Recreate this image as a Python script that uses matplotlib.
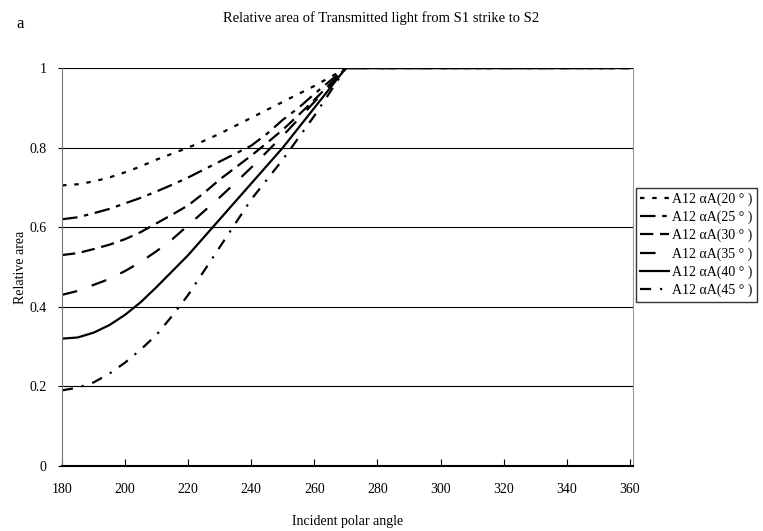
import matplotlib
matplotlib.use("Agg")
import matplotlib.pyplot as plt

plt.rcParams['font.family'] = ['Liberation Serif', 'DejaVu Serif']

angles = [180, 185, 190, 195, 200, 205, 210, 215, 220, 225, 230, 235, 240, 245, 250, 255, 260, 265, 270,
          280, 290, 300, 310, 320, 330, 340, 350, 360]
flat = [1, 1, 1, 1, 1, 1, 1, 1, 1]
a20 = [0.705, 0.708, 0.715, 0.725, 0.738, 0.753, 0.77, 0.785, 0.80, 0.817, 0.835, 0.855, 0.875, 0.895,
       0.915, 0.935, 0.955, 0.977, 1] + flat
a25 = [0.62, 0.625, 0.635, 0.646, 0.66, 0.674, 0.69, 0.707, 0.725, 0.745, 0.765, 0.785, 0.805, 0.835,
       0.87, 0.90, 0.935, 0.968, 1] + flat
a30 = [0.53, 0.535, 0.545, 0.556, 0.57, 0.588, 0.61, 0.632, 0.655, 0.686, 0.72, 0.75, 0.78, 0.812,
       0.845, 0.882, 0.92, 0.96, 1] + flat
a35 = [0.43, 0.44, 0.455, 0.47, 0.49, 0.513, 0.54, 0.57, 0.605, 0.64, 0.675, 0.712, 0.75, 0.79,
       0.83, 0.872, 0.915, 0.957, 1] + flat
a40 = [0.32, 0.323, 0.335, 0.354, 0.38, 0.412, 0.45, 0.49, 0.53, 0.575, 0.62, 0.665, 0.71, 0.755,
       0.80, 0.85, 0.90, 0.95, 1] + flat
a45 = [0.19, 0.197, 0.21, 0.232, 0.26, 0.293, 0.33, 0.378, 0.43, 0.49, 0.55, 0.61, 0.67, 0.72,
       0.77, 0.825, 0.88, 0.94, 1] + flat
labels = ["A12 αA(20 ° )", "A12 αA(25 ° )", "A12 αA(30 ° )",
          "A12 αA(35 ° )", "A12 αA(40 ° )", "A12 αA(45 ° )"]

fig = plt.figure(figsize=(7.63, 5.31), dpi=100)
ax = fig.add_axes([0.0813, 0.1224, 0.7483, 0.7495])

for v in [0.2, 0.4, 0.6, 0.8, 1.0]:
    ax.axhline(v, color='black', lw=0.8, zorder=0)

styles = [(0, (2, 3.5)), (0, (7, 3, 2, 3)), (0, (6, 3)), (0, (7, 7)), '-', (0, (5, 4, 1, 4))]
series = [a20, a25, a30, a35, a40, a45]
for y, ls, lab in zip(series, styles, labels):
    ax.plot(angles, y, color='black', lw=1.6, linestyle=ls, label=lab)

ax.set_xlim(180, 361)
ax.set_ylim(0, 1)
ax.set_xticks(range(180, 361, 20))
ax.set_yticks([0, 0.2, 0.4, 0.6, 0.8, 1])
ax.set_yticklabels(['0', '0.2', '0.4', '0.6', '0.8', '1'])
ax.tick_params(axis='x', direction='in', length=5, labelsize=10, pad=12, color='black')
ax.tick_params(axis='y', direction='out', length=3, labelsize=10, pad=8)
ax.spines['top'].set_visible(False)
ax.spines['left'].set_color('#777777')
ax.spines['right'].set_color('#999999')
ax.spines['bottom'].set_linewidth(1.5)

ax.set_xlabel('Incident polar angle', fontsize=10, labelpad=14)
ax.set_ylabel('Relative area', fontsize=10, labelpad=2)
fig.text(0.499, 0.958, 'Relative area of Transmitted light from S1 strike to S2', ha='center', fontsize=10.5)
fig.text(0.022, 0.948, 'a', fontsize=12)

leg = ax.legend(loc='upper left', bbox_to_anchor=(0.8335, 0.646), bbox_transform=fig.transFigure,
                frameon=True, fancybox=False, edgecolor='black', fontsize=10,
                handlelength=2.1, handletextpad=0.2, borderpad=0.3, labelspacing=0.35, borderaxespad=0)
leg.get_frame().set_linewidth(1.0)

fig.savefig('out.png', dpi=100)
